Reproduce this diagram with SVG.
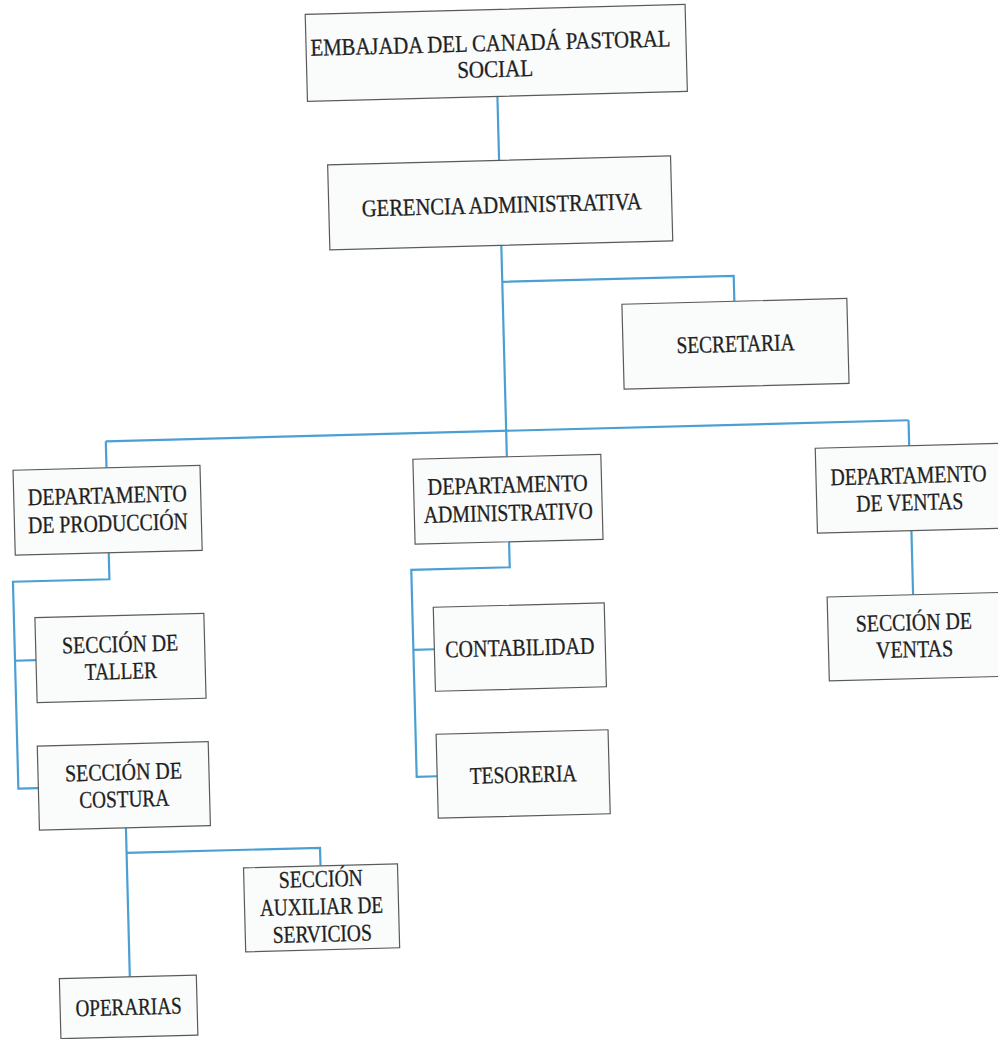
<svg xmlns="http://www.w3.org/2000/svg" width="998" height="1039" viewBox="0 0 998 1039">
<style>
.box{fill:#fafbfb;stroke:#5a5a5a;stroke-width:1.2}
.con{fill:none;stroke:#4aa0d4;stroke-width:2.2}
text{font-family:"Liberation Serif","Times New Roman",serif;font-size:24px;fill:#1f1f1f;stroke:#1f1f1f;stroke-width:0.3;text-anchor:middle}
</style>
<rect width="998" height="1039" fill="#ffffff"/>
<g transform="rotate(-1.5 500 520)">
<g id="connectors">
<path class="con" d="M508.5,96.5 V160.5"/>
<path class="con" d="M508.5,245.5 V457"/>
<path class="con" d="M508.5,282 H740 V307.5"/>
<path class="con" d="M108,431 H911"/>
<path class="con" d="M108,431 V457.5"/>
<path class="con" d="M911,431 V456.5"/>
<path class="con" d="M108,542.5 V569 H11.5 V776 H31.5"/>
<path class="con" d="M11.5,648 H32.5"/>
<path class="con" d="M118,818 V967"/>
<path class="con" d="M118,843 H311.5 V861"/>
<path class="con" d="M508.5,542 V567.5 H410 V774.5 H430.5"/>
<path class="con" d="M410,647.5 H431"/>
<path class="con" d="M911,541.5 V605.5"/>
</g>
<g id="embajada">
<rect class="box" x="318.5" y="9.5" width="380" height="87"/>
<text x="503" y="51" textLength="360" lengthAdjust="spacingAndGlyphs">EMBAJADA DEL CANADÁ PASTORAL</text>
<text x="507" y="77" textLength="76" lengthAdjust="spacingAndGlyphs">SOCIAL</text>
</g>
<g id="gerencia">
<rect class="box" x="337" y="160.5" width="343" height="85"/>
<text x="510" y="213" textLength="280" lengthAdjust="spacingAndGlyphs">GERENCIA ADMINISTRATIVA</text>
</g>
<g id="secretaria">
<rect class="box" x="627.5" y="307.5" width="225" height="85"/>
<text x="740" y="358" textLength="118" lengthAdjust="spacingAndGlyphs">SECRETARIA</text>
</g>
<g id="dep-produccion">
<rect class="box" x="14.5" y="457.5" width="187" height="85"/>
<text x="108" y="493" textLength="159" lengthAdjust="spacingAndGlyphs">DEPARTAMENTO</text>
<text x="108" y="521" textLength="160" lengthAdjust="spacingAndGlyphs">DE PRODUCCIÓN</text>
</g>
<g id="dep-administrativo">
<rect class="box" x="414.5" y="457" width="188" height="85"/>
<text x="508.5" y="493" textLength="160" lengthAdjust="spacingAndGlyphs">DEPARTAMENTO</text>
<text x="508.5" y="521" textLength="169" lengthAdjust="spacingAndGlyphs">ADMINISTRATIVO</text>
</g>
<g id="dep-ventas">
<rect class="box" x="817" y="456.5" width="186" height="85"/>
<text x="909.5" y="494" textLength="156" lengthAdjust="spacingAndGlyphs">DEPARTAMENTO</text>
<text x="910" y="521" textLength="107" lengthAdjust="spacingAndGlyphs">DE VENTAS</text>
</g>
<g id="seccion-taller">
<rect class="box" x="32.5" y="605.5" width="169" height="85"/>
<text x="117" y="642" textLength="116" lengthAdjust="spacingAndGlyphs">SECCIÓN DE</text>
<text x="117" y="669" textLength="72" lengthAdjust="spacingAndGlyphs">TALLER</text>
</g>
<g id="seccion-costura">
<rect class="box" x="31.5" y="734" width="171" height="84"/>
<text x="117" y="770" textLength="117" lengthAdjust="spacingAndGlyphs">SECCIÓN DE</text>
<text x="117" y="797" textLength="90" lengthAdjust="spacingAndGlyphs">COSTURA</text>
</g>
<g id="seccion-auxiliar">
<rect class="box" x="234.5" y="861" width="154" height="84"/>
<text x="311.5" y="882" textLength="84" lengthAdjust="spacingAndGlyphs">SECCIÓN</text>
<text x="311.5" y="909.5" textLength="123" lengthAdjust="spacingAndGlyphs">AUXILIAR DE</text>
<text x="311.5" y="937" textLength="99" lengthAdjust="spacingAndGlyphs">SERVICIOS</text>
</g>
<g id="operarias">
<rect class="box" x="47.5" y="967" width="137" height="60"/>
<text x="116" y="1005" textLength="106" lengthAdjust="spacingAndGlyphs">OPERARIAS</text>
</g>
<g id="contabilidad">
<rect class="box" x="431" y="605.5" width="171" height="84"/>
<text x="516.5" y="656" textLength="149" lengthAdjust="spacingAndGlyphs">CONTABILIDAD</text>
</g>
<g id="tesoreria">
<rect class="box" x="430.5" y="732.5" width="172" height="84"/>
<text x="516.5" y="783" textLength="107" lengthAdjust="spacingAndGlyphs">TESORERIA</text>
</g>
<g id="seccion-ventas">
<rect class="box" x="825" y="605.5" width="172" height="84"/>
<text x="911" y="641" textLength="116" lengthAdjust="spacingAndGlyphs">SECCIÓN DE</text>
<text x="911" y="668" textLength="77" lengthAdjust="spacingAndGlyphs">VENTAS</text>
</g>
</g>
</svg>
